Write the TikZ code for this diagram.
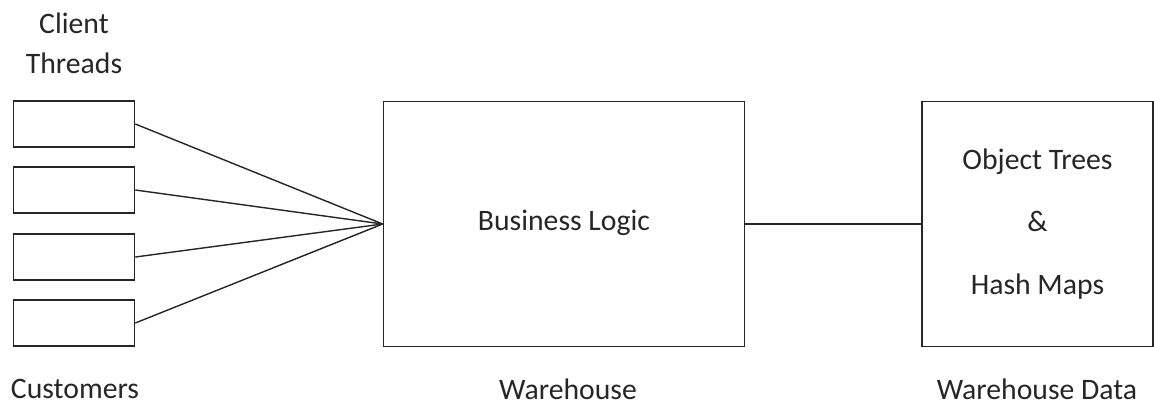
\documentclass[tikz,border=0pt]{standalone}
\usepackage{fontspec}
\setmainfont{Carlito}
\usetikzlibrary{positioning}
\tikzstyle{hilo}=[draw=black!85, line width=0.9pt, minimum width=2.42cm, minimum height=0.92cm, inner sep=0pt]
\tikzstyle{bloque}=[draw=black!85, line width=0.9pt, minimum height=4.9cm, inner sep=0pt, align=center, text=black!85]
\tikzstyle{etiqueta}=[font=\fontsize{16.9}{22.8}\selectfont, text=black!85, align=center, inner sep=0pt]
\tikzstyle{conector}=[draw=black!85, line width=0.8pt]

\begin{document}
\begin{tikzpicture}[x=0.2mm, y=-0.2mm]
    \useasboundingbox (0,0) rectangle (1154,407);

    % Hilos de clientes
    \node[etiqueta] (titulo) at (74,43) {Client\\Threads};
    \foreach \y [count=\i] in {124,190,257,323}{
        \node[hilo] (h\i) at (74,\y) {};
    }

    % Bloques centrales
    \node[bloque, minimum width=7.22cm, font=\fontsize{16.9}{20}\selectfont] (logica) at (564,224) {\raisebox{4pt}{Business Logic}};
    \node[bloque, minimum width=4.62cm, font=\fontsize{16.9}{35.8}\selectfont] (datos) at (1037.5,224) {Object Trees\\\&\\Hash Maps};

    % Conexiones
    \foreach \i in {1,...,4}{
        \draw[conector] (h\i.east) -- (logica.west);
    }
    \draw[conector] (logica.east) -- (datos.west);

    % Nombres de abajo
    \node[etiqueta] (clientes) at (75,389) {Customers};
    \node[etiqueta] (almacen) at (568,389) {Warehouse};
    \node[etiqueta] (almdatos) at (1037,389) {Warehouse Data};
\end{tikzpicture}
\end{document}
